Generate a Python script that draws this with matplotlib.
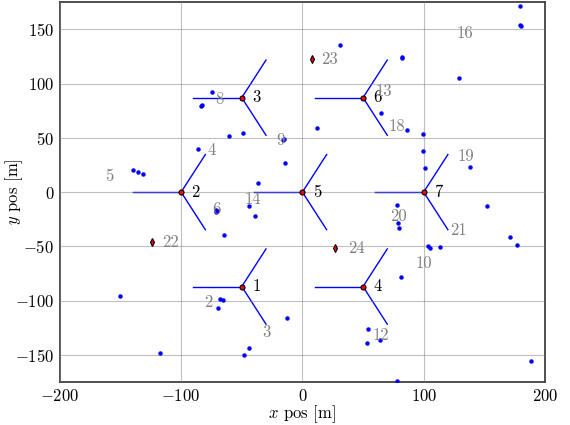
import numpy as np
import matplotlib
matplotlib.use("Agg")
import matplotlib.pyplot as plt

plt.rcParams.update({
    "font.family": "cmr10",
    "mathtext.fontset": "cm",
    "axes.formatter.use_mathtext": True,
    "font.size": 12,
})

# turbine hubs (hexagonal layout)
turb_x = [-50, -100, -50, 50, 0, 50, 100]
turb_y = [-87, 0, 87, -87, 0, 87, 0]
turb_lbl = ["1", "2", "3", "4", "5", "6", "7"]
blade_len = 40
blade_ang = [180, 60, -60]

# measured points
pts_x = [-74.5, -83.9, -83.0, -60.2, -49.2, -15.7, -15.0, -14.3, -36.3, -86.3,
         -139.4, -135.5, -131.4, -44.3, -39.3, -71.2, -71.5, -70.8, -64.3, -150.4,
         -68.2, -65.2, -69.3, -12.9, -44.3, -48.1, -117.4, 179.5, 180.0, 179.2,
         129.5, 31.1, 82.2, 82.3, 64.9, 11.8, 86.1, 99.3, 99.3, 101.2,
         138.3, 152.3, 78.1, 79.2, 80.0, 103.9, 105.3, 113.2, 171.3, 177.3,
         81.1, 54.2, 53.1, 64.1, 188.3, 77.8]
pts_y = [91.8, 79.6, 79.8, 51.5, 54.6, 47.9, 49.0, 26.5, 8.5, 39.6,
         20.4, 18.6, 16.5, -12.5, -21.7, -16.5, -18.6, -17.8, -39.3, -95.8,
         -98.8, -99.7, -106.7, -115.6, -143.6, -149.7, -147.9, 171.0, 153.0, 154.0,
         105.5, 135.7, 124.7, 123.2, 72.6, 58.6, 57.6, 53.4, 37.5, 22.6,
         23.5, -12.5, -11.6, -28.7, -33.5, -49.7, -51.8, -50.6, -41.8, -48.8,
         -77.8, -126.0, -139.0, -136.0, -155.9, -173.8]

# red diamonds
dia_x = [-124.3, 8.0, 27.0]
dia_y = [-45.7, 122.3, -51.5]

# grey labels
gl_txt = ["2", "3", "4", "5", "6", "8", "9", "10", "12", "13", "14", "16",
          "18", "19", "20", "21", "22", "23", "24"]
gl_x = [-77.5, -30, -75, -159, -71, -68.5, -18, 100, 65, 67, -40.5, 134,
        77.5, 135, 79, 129, -109, 22, 45]
gl_y = [-101.5, -129, 38.4, 14.6, -16, 85, 48, -66, -132, 93, -6.5, 146,
        60.5, 33, -22, -35, -46, 122, -52]

fig = plt.figure(figsize=(5.7, 4.25), dpi=100)
ax = fig.add_axes([0.105, 0.101, 0.851, 0.894])

for x0, y0 in zip(turb_x, turb_y):
    for a in blade_ang:
        r = np.deg2rad(a)
        ax.plot([x0, x0 + blade_len * np.cos(r)], [y0, y0 + blade_len * np.sin(r)],
                color="blue", lw=1.0, zorder=1)

ax.plot(pts_x, pts_y, "o", color="blue", ms=3.2, mew=0, zorder=3)
ax.plot(turb_x, turb_y, "o", color="red", mec="black", ms=3.6, mew=0.8, zorder=4)
ax.plot(dia_x, dia_y, "d", color="red", mec="black", ms=4.2, mew=0.8, zorder=4)

for t, x0, y0 in zip(turb_lbl, turb_x, turb_y):
    ax.text(x0 + 12, y0, t, ha="center", va="center", color="black", fontsize=12, zorder=5)
for t, x0, y0 in zip(gl_txt, gl_x, gl_y):
    ax.text(x0, y0, t, ha="center", va="center", color="gray", fontsize=12, zorder=5)

ax.set_xlim(-200, 200)
ax.set_ylim(-175, 175)
ax.set_xticks([-200, -100, 0, 100, 200])
ax.set_yticks([-150, -100, -50, 0, 50, 100, 150])
ax.grid(True, color="gray", alpha=0.5, lw=0.8)
ax.set_axisbelow(False)
ax.tick_params(direction="in", length=0, labelsize=12, pad=4)
for s in ax.spines.values():
    s.set_linewidth(1.3)
    s.set_color("#404040")

ax.set_xlabel(r"$x$ pos [m]", fontsize=12)
ax.set_ylabel(r"$y$ pos [m]", fontsize=12)
ax.xaxis.set_label_coords(0.5, -0.055)
ax.yaxis.set_label_coords(-0.072, 0.5)

fig.savefig("out.png", dpi=100)
